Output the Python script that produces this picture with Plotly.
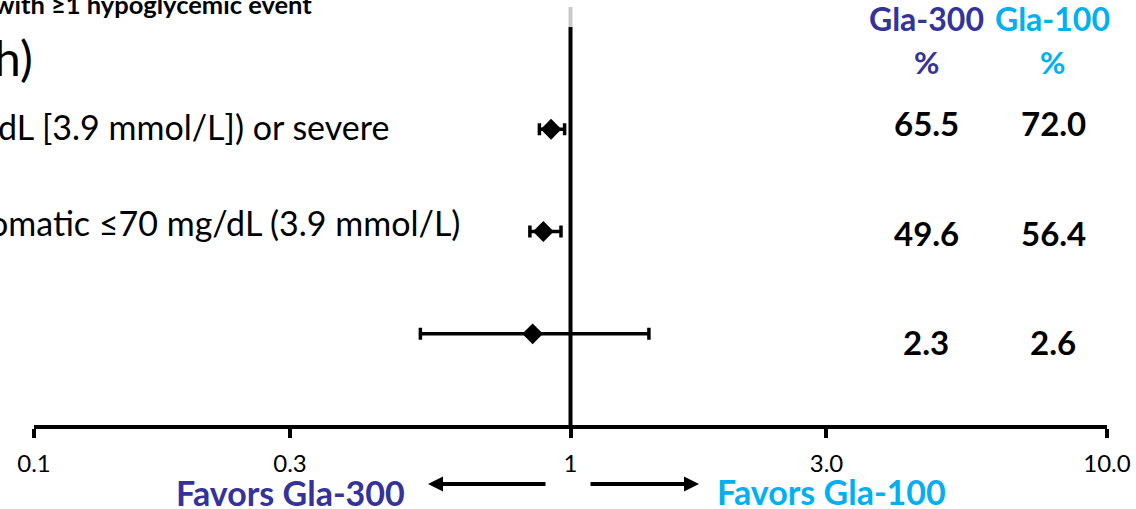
import plotly.graph_objects as go

# ---- data ----
rows = [1, 2, 3]
ratio = [0.92, 0.89, 0.85]
ci_low = [0.875, 0.84, 0.525]
ci_high = [0.975, 0.96, 1.40]
gla300_pct = ["65.5", "49.6", "2.3"]
gla100_pct = ["72.0", "56.4", "2.6"]
row_labels = {1: "dL [3.9 mmol/L]) or severe", 2: "omatic ≤70 mg/dL (3.9 mmol/L)"}
tick_vals = [0.1, 0.3, 1, 3, 10]
tick_text = ["0.1", "0.3", "1", "3.0", "10.0"]

C300 = "#333399"
C100 = "#00B0F0"
FONT = "Lato"

W, H = 1136, 509
ML, MR, MT, MB = 34, 29, 0, 84
PW = W - ML - MR
PH = H - MT - MB

def px(x):
    return (x - ML) / PW

def py(y):
    return (PH - y) / PH

fig = go.Figure()
fig.add_trace(go.Scatter(
    x=ratio, y=rows, mode="markers",
    marker=dict(symbol="diamond", size=16, color="black"),
    error_x=dict(type="data", symmetric=False,
                 array=[h - r for h, r in zip(ci_high, ratio)],
                 arrayminus=[r - l for r, l in zip(ratio, ci_low)],
                 color="black", thickness=3.5, width=6),
    showlegend=False, hoverinfo="skip",
))

# reference line at 1
fig.add_shape(type="line", xref="x", yref="y", x0=1, x1=1, y0=0, y1=3.892,
              line=dict(color="black", width=4), layer="below")
fig.add_shape(type="line", xref="x", yref="y", x0=1, x1=1, y0=-0.195, y1=0.0,
              line=dict(color="#c8c8c8", width=4), layer="below")

ann = []
def txt(x, y, text, size, color="black", xanchor="center", yref="y", yshift=0):
    ann.append(dict(xref="paper", yref=yref, x=x, y=y, xanchor=xanchor, yanchor="middle",
                    yshift=yshift, text=text, showarrow=False,
                    font=dict(family=FONT, size=size, color=color)))

# left labels (cropped in source)
txt(px(314), -0.225, "<b>with ≥1 hypoglycemic event</b>", 25.5, xanchor="right")
txt(px(35), 0.30, "h)", 48, xanchor="right")
label_shift = {1: 3, 2: 9}
label_right = {1: 391, 2: 462}
for r, t in row_labels.items():
    txt(px(label_right[r]), r, t, 34, xanchor="right", yshift=label_shift[r])

# column headers
for cx, name, col in [(926, "Gla-300", C300), (1052, "Gla-100", C100)]:
    txt(px(cx), -0.088, f"<b>{name}</b>", 32, col)
    txt(px(cx), 0.342, "<b>%</b>", 31, col)

val_shift = [6, -1, -8]
for i, r in enumerate(rows):
    txt(px(926), r, f"<b>{gla300_pct[i]}</b>", 33, yshift=val_shift[i])
    txt(px(1053), r, f"<b>{gla100_pct[i]}</b>", 33, yshift=val_shift[i])

# favors labels + arrows
txt(px(290), py(492), "<b>Favors Gla-300</b>", 34, C300, yref="paper")
txt(px(831), py(491), "<b>Favors Gla-100</b>", 34, C100, yref="paper")
ann.append(dict(xref="paper", yref="paper", x=px(428), y=py(484), ax=119, ay=0, text="",
                showarrow=True, arrowhead=2, arrowsize=0.75, arrowwidth=4, arrowcolor="black"))
ann.append(dict(xref="paper", yref="paper", x=px(699), y=py(484), ax=-110, ay=0, text="",
                showarrow=True, arrowhead=2, arrowsize=0.75, arrowwidth=4, arrowcolor="black"))

fig.update_layout(
    width=W, height=H,
    margin=dict(l=ML, r=MR, t=MT, b=MB),
    paper_bgcolor="white", plot_bgcolor="white",
    annotations=ann,
    xaxis=dict(type="log", range=[-1, 1], tickvals=tick_vals, ticktext=tick_text,
               showline=True, linecolor="black", linewidth=4, mirror=False,
               ticks="outside", ticklen=9, tickwidth=4, tickcolor="black",
               showgrid=False, zeroline=False, ticklabelstandoff=5,
               tickfont=dict(family=FONT, size=24, color="black")),
    yaxis=dict(range=[3.892, -0.264], visible=False, showgrid=False, zeroline=False),
)

fig.write_html("out.html", config={"displayModeBar": False},
               post_script="document.body.style.margin='0';")
